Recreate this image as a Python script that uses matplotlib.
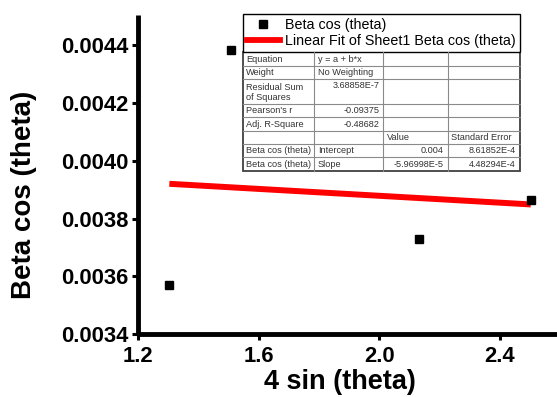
import numpy as np
import matplotlib
matplotlib.use("Agg")
import matplotlib.pyplot as plt
from matplotlib.ticker import FormatStrFormatter, FixedLocator
from matplotlib.lines import Line2D
from matplotlib.patches import Rectangle

# ---- data ----
x_vals = [1.303, 1.508, 2.132, 2.502]
y_vals = [0.003570, 0.004383, 0.003730, 0.003865]
x_ticks = [1.2, 1.6, 2.0, 2.4]
y_ticks = [0.0034, 0.0036, 0.0038, 0.0040, 0.0042, 0.0044]
series_label = "Beta cos (theta)"
fit_label = "Linear Fit of Sheet1 Beta cos (theta)"
x_label = "4 sin (theta)"
y_label = "Beta cos (theta)"

table_rows = [
    ["Equation", "y = a + b*x", "", ""],
    ["Weight", "No Weighting", "", ""],
    ["Residual Sum\nof Squares", "3.68858E-7", "", ""],
    ["Pearson's r", "-0.09375", "", ""],
    ["Adj. R-Square", "-0.48682", "", ""],
    ["", "", "Value", "Standard Error"],
    ["Beta cos (theta)", "Intercept", "0.004", "8.61852E-4"],
    ["Beta cos (theta)", "Slope", "-5.96998E-5", "4.48294E-4"],
]

W, H = 557, 397
fig = plt.figure(figsize=(W / 100, H / 100), dpi=100)
fx = lambda px: px / W
fy = lambda py: 1 - py / H

ax_l, ax_t, ax_r, ax_b = 138.3, 15, 557, 334
ax = fig.add_axes([fx(ax_l), fy(ax_b), fx(ax_r) - fx(ax_l), fy(ax_t) - fy(ax_b)])
ax.set_xlim(1.2, 2.589)
ax.set_ylim(0.0034, 0.004505)

slope, intercept = np.polyfit(x_vals, y_vals, 1)
xf = np.array([min(x_vals), max(x_vals)])
ax.plot(xf, intercept + slope * xf, color="#FF0000", lw=4.3, solid_capstyle="butt",
        zorder=2, label=fit_label)
ax.plot(x_vals, y_vals, "s", color="black", ms=5.3, zorder=3, label=series_label,
        clip_on=False)

for s in ["top", "right"]:
    ax.spines[s].set_visible(False)
for s in ["left", "bottom"]:
    ax.spines[s].set_linewidth(3.5)
    ax.spines[s].set_capstyle("butt")

ax.xaxis.set_major_locator(FixedLocator(x_ticks))
ax.yaxis.set_major_locator(FixedLocator(y_ticks))
ax.xaxis.set_major_formatter(FormatStrFormatter("%.1f"))
ax.yaxis.set_major_formatter(FormatStrFormatter("%.4f"))
ax.tick_params(direction="out", length=4.5, width=2.2, pad=2.5)
ax.tick_params(axis="x", pad=4)
bold_tick = dict(family=["Liberation Sans", "DejaVu Sans"], weight="bold", size=15.8)
for lab in ax.get_xticklabels() + ax.get_yticklabels():
    lab.set_fontproperties(matplotlib.font_manager.FontProperties(**bold_tick))

ax.set_xlabel(x_label, family=["Liberation Sans", "DejaVu Sans"], weight="bold", size=19.5)
ax.set_ylabel(y_label, family=["Liberation Sans", "DejaVu Sans"], weight="bold", size=20)
pw, ph = ax_r - ax_l, ax_b - ax_t
ax.xaxis.set_label_coords((340 - ax_l) / pw, -(369 - ax_b) / ph)
ax.yaxis.set_label_coords(-(ax_l - 37) / pw, (ax_b - 195) / ph)

# ---- legend ----
handles = [Line2D([], [], ls="none", marker="s", color="black", ms=6),
           Line2D([], [], color="#FF0000", lw=4.2)]
leg = fig.legend(handles, [series_label, fit_label], loc="upper left",
                 bbox_to_anchor=(fx(242.7), fy(14.3)), frameon=True, fancybox=False,
                 edgecolor="black", framealpha=1, borderpad=0.28, labelspacing=0.1,
                 handlelength=2.3, handletextpad=0.38, borderaxespad=0,
                 prop=dict(family="Liberation Sans", size=10.3))
leg.get_frame().set_linewidth(1.0)

# ---- table ----
col_b = [242.7, 314.3, 383.3, 447.7, 520.0]
row_b = [52.3, 65.7, 79.0, 104.0, 117.3, 130.7, 144.0, 157.3, 170.7]
tcolor = "#333333"
tfont = dict(family="Liberation Sans", size=6.6, color=tcolor)
fig.patches.append(Rectangle((fx(col_b[0]), fy(row_b[-1])), fx(col_b[-1]) - fx(col_b[0]),
                             fy(row_b[0]) - fy(row_b[-1]), transform=fig.transFigure,
                             facecolor="white", edgecolor="#404040", lw=1.3, zorder=5))
for yb in row_b[1:-1]:
    fig.add_artist(Line2D([fx(col_b[0]), fx(col_b[-1])], [fy(yb), fy(yb)],
                          transform=fig.transFigure, color="#8a8a8a", lw=0.8, zorder=6))
for xb in col_b[1:-1]:
    fig.add_artist(Line2D([fx(xb), fx(xb)], [fy(row_b[0]), fy(row_b[-1])],
                          transform=fig.transFigure, color="#8a8a8a", lw=0.8, zorder=6))

numeric_right = {(2, 1), (3, 1), (4, 1), (6, 2), (7, 2), (6, 3), (7, 3)}
for r, row in enumerate(table_rows):
    top, bot = row_b[r], row_b[r + 1]
    for c, txt in enumerate(row):
        if not txt:
            continue
        if r == 2:
            if c == 0:
                fig.text(fx(col_b[0] + 3.5), fy(top + 8), "Residual Sum", ha="left",
                         va="center", zorder=7, **tfont)
                fig.text(fx(col_b[0] + 3.5), fy(top + 18), "of Squares", ha="left",
                         va="center", zorder=7, **tfont)
                continue
            yc = top + 7
        else:
            yc = (top + bot) / 2 + 0.3
        if (r, c) in numeric_right:
            fig.text(fx(col_b[c + 1] - 4), fy(yc), txt, ha="right", va="center",
                     zorder=7, **tfont)
        else:
            fig.text(fx(col_b[c] + 3.5), fy(yc), txt, ha="left", va="center",
                     zorder=7, **tfont)

fig.savefig("out.png", dpi=100)
